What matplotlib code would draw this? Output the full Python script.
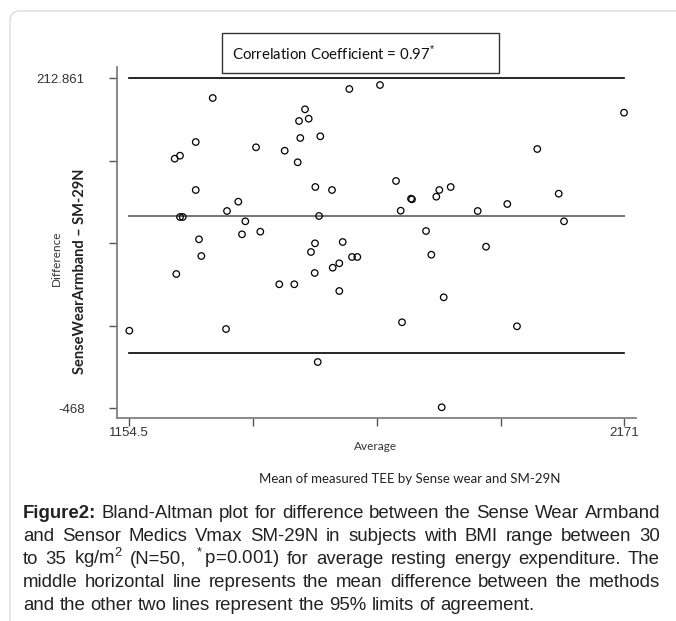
import matplotlib
matplotlib.use("Agg")
import matplotlib.pyplot as plt
from matplotlib.patches import FancyBboxPatch, Rectangle

plt.rcParams['mathtext.fontset'] = 'custom'
plt.rcParams['mathtext.rm'] = 'Liberation Sans'

# mean of the two methods (x) and difference SenseWear - SM-29N (y)
avg_tee = [1325.8, 1290.9, 1258.6, 1247.7, 1414.7, 1473.6, 1290.9, 1378.3, 1355.1, 1258.6,
           1264.2, 1392.7, 1385.9, 1423.5, 1297.6, 1606.3, 1669.3, 1515.3, 1503.0, 1522.9,
           1505.6, 1546.7, 1500.3, 1536.5, 1570.7, 1702.2, 1733.0, 1735.0, 1784.9, 1791.1,
           1814.5, 1544.1, 1711.8, 1763.8, 1535.8, 1592.7, 2170.4, 1992.3, 2036.3, 1930.7,
           1869.9, 2047.2, 1887.0, 1302.4, 1251.0, 1462.5, 1154.5, 1353.1, 1527.6, 1611.8,
           1622.7, 1585.7, 1572.2, 1535.2, 1774.7, 1493.3, 1585.7, 1800.1, 1714.5, 1541.4,
           1796.0, 1950.6]
diff_tee = [172.2, 81.4, 53.2, 47.0, 70.5, 63.5, -17.6, -41.7, -60.9, -73.3,
            -73.3, -82.2, -109.0, -103.6, -119.3, 190.8, 199.0, 148.9, 124.8, 129.5,
            89.7, 93.2, 39.6, -11.4, -17.6, 1.0, -35.5, -36.8, -31.4, -17.6,
            -11.4, -71.2, -60.3, -102.2, -127.6, -124.9, 141.9, 67.0, -25.2, -46.5,
            -60.9, -82.2, -134.6, -153.8, -190.9, -212.1, -307.9, -304.4, -145.5, -155.8,
            -155.8, -168.8, -177.9, -188.8, -151.1, -212.1, -226.0, -239.0, -290.5, -372.5,
            -465.9, -298.8]

upper_loa = 212.861
mean_diff = -70.8
lower_loa = -354.5
x_range = [1154.5, 2171]

y_ticks = [-468, -297.785, -127.569, 42.646, 212.861]
y_ticklabels = ['-468', '', '', '', '212.861']
x_ticks = [1154.5, 1408.6, 1662.75, 1916.9, 2171]
x_ticklabels = ['1154.5', '', '', '', '2171']

caption = [
    "Figure2: Bland-Altman plot for difference between the Sense Wear Armband",
    "and Sensor Medics Vmax SM-29N in subjects with BMI range between 30",
    "to 35 kg/m$^2$ (N=50, $^*$p=0.001) for average resting energy expenditure. The",
    "middle horizontal line represents the mean difference between the methods",
    "and the other two lines represent the 95% limits of agreement.",
]

W, H = 676, 621
fig = plt.figure(figsize=(W / 100, H / 100), dpi=100)

# rounded page frame
frame = FancyBboxPatch((10, -40), 720, H - 11 + 40, boxstyle="round,pad=0,rounding_size=10",
                       transform=None, fill=False, edgecolor='#dcdcdc', linewidth=1)
fig.patches.append(frame)

ax = fig.add_axes([116.7 / W, 1 - 418 / H, (636 - 116.7) / W, (418 - 66.7) / H])
ax.set_xlim(1128.6, 2195.0)
ax.set_ylim(-488.0, 236.8)

ax.plot(x_range, [upper_loa, upper_loa], color='black', lw=1.2)
ax.plot(x_range, [mean_diff, mean_diff], color='#777777', lw=1.5)
ax.plot(x_range, [lower_loa, lower_loa], color='black', lw=1.2)
ax.scatter(avg_tee, diff_tee, s=22, facecolors='none', edgecolors='black', linewidths=0.9, zorder=3)

for side in ['top', 'right']:
    ax.spines[side].set_visible(False)
for side in ['left', 'bottom']:
    ax.spines[side].set_color('#808080')
    ax.spines[side].set_linewidth(1.3)

tick_font = ['Liberation Sans Narrow', 'Liberation Sans', 'DejaVu Sans']
ax.set_yticks(y_ticks)
ax.set_yticklabels(y_ticklabels, family=tick_font, fontsize=9.5, color='#333333')
ax.set_xticks(x_ticks)
ax.set_xticklabels(x_ticklabels, family=tick_font, fontsize=9.5, color='#333333')
ax.tick_params(axis='y', direction='out', length=6, width=1, color='#555555', pad=17)
ax.tick_params(axis='x', direction='out', length=6, width=1, color='#555555', pad=0.5)


def px(x, y):
    return x / W, 1 - y / H


lbl_font = ['Lato', 'DejaVu Sans']
fig.text(*px(56, 258), 'Difference', rotation=90, ha='center', va='center',
         family=lbl_font, fontsize=8.5, color='#333333')
fig.text(*px(80, 271), 'SenseWearArmband \u2013 SM-29N', rotation=90, ha='center', va='center',
         family=lbl_font, fontsize=10.5, fontweight='bold', color='#222222')
fig.text(*px(376, 446), 'Average', ha='center', va='center',
         family=lbl_font, fontsize=8.5, color='#333333')
fig.text(*px(410, 479), 'Mean of measured TEE by Sense wear and SM-29N', ha='center', va='center',
         family=lbl_font, fontsize=9.5, color='#222222')

# correlation box
fig.patches.append(Rectangle((221.7, H - 73.3), 277.6, 40, transform=None,
                             fill=False, edgecolor='#333333', linewidth=1))
fig.text(*px(232, 53), 'Correlation Coefficient = 0.97$^{*}$', ha='left', va='center',
         family=lbl_font, fontsize=10.8, color='#111111')

# justified caption; font size chosen so the widest line just fits
renderer = fig.canvas.get_renderer()
cap_font = ['Liberation Sans', 'DejaVu Sans']
left, right = 23, 660


def line_width(s, size):
    t = fig.text(0, 0, s, family=cap_font, fontsize=size)
    w = t.get_window_extent(renderer).width
    t.remove()
    return w


natural = max(line_width(s, 10) for s in caption[:-1])
cap_size = 10 * (right - left) / natural * 0.99

baselines = [518, 541, 564, 587, 610]
space_w = line_width('a a', cap_size) - line_width('aa', cap_size)
for i, line in enumerate(caption):
    words = line.split(' ')
    arts = []
    for j, w in enumerate(words):
        bold = (i == 0 and j == 0)
        t = fig.text(0, 0, w, ha='left', va='baseline', family=cap_font, fontsize=cap_size,
                     fontweight='bold' if bold else 'normal', color='#222222')
        arts.append(t)
    widths = [t.get_window_extent(renderer).width for t in arts]
    if i < len(caption) - 1:
        gap = (right - left - sum(widths)) / (len(words) - 1)
    else:
        gap = space_w
    x = left
    for t, wdt in zip(arts, widths):
        t.set_position(px(x, baselines[i]))
        x += wdt + gap

fig.savefig('out.png', dpi=100)
